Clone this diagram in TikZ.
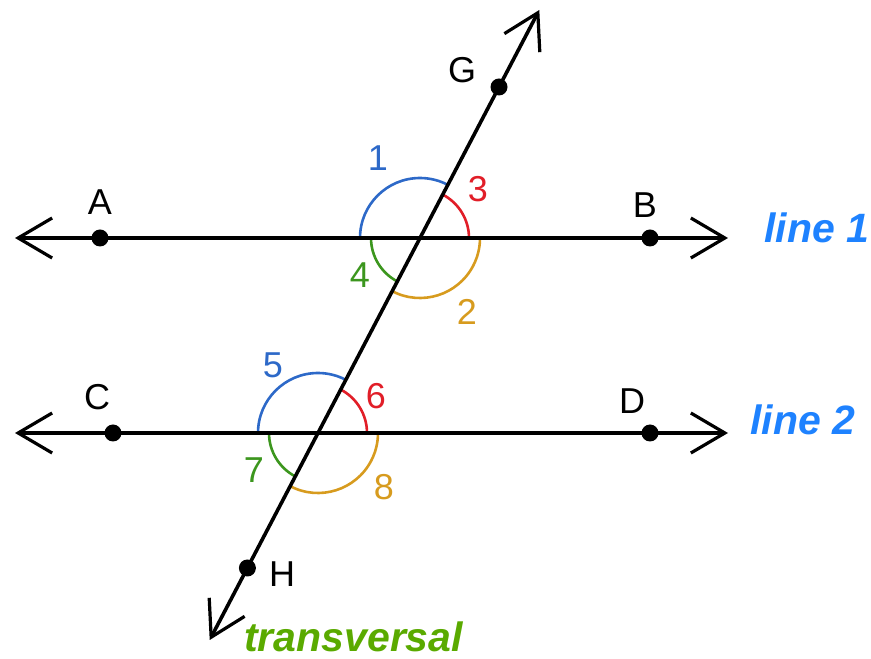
\documentclass[tikz,border=0pt]{standalone}
\usepackage{fontspec}
\setmainfont{Liberation Sans}
\usetikzlibrary{arrows.meta}
\definecolor{arcblue}{RGB}{45,105,200}
\definecolor{arcred}{RGB}{225,30,40}
\definecolor{arcgreen}{RGB}{60,150,30}
\definecolor{arcorange}{RGB}{215,155,30}
\definecolor{linetxt}{RGB}{30,130,255}
\definecolor{transtxt}{RGB}{90,170,0}
\begin{document}
\begin{tikzpicture}[x=1pt,y=1pt,
  mainline/.style={line width=3.6pt,black,{Straight Barb[length=34pt,width=40pt,line width=3.2pt]}-{Straight Barb[length=34pt,width=40pt,line width=3.2pt]}},
  bigdot/.style={circle,fill=black,minimum size=17pt,inner sep=0pt},
  lbl/.style={inner sep=0pt,font=\fontsize{36}{42}\selectfont},
  anglearc/.style={line width=2.6pt},
  linename/.style={inner sep=0pt,text=linetxt,font=\fontsize{41}{47}\selectfont\bfseries\itshape}
]
\useasboundingbox (0,0) rectangle (871,659);
% intersections
\coordinate (I1) at (420,421);
\coordinate (I2) at (318,226);
% line ends
\coordinate (L1a) at (15,421);
\coordinate (L1b) at (728,421);
\coordinate (L2a) at (15,226);
\coordinate (L2b) at (728,226);
\coordinate (Tt) at (539.3,649);
\coordinate (Tb) at (209.7,19);
% arcs line 1
\draw[anglearc,arcblue] ([shift={(180:60)}]I1) arc[start angle=180,end angle=62.38,radius=60];
\draw[anglearc,arcred] ([shift={(0:49)}]I1) arc[start angle=0,end angle=62.38,radius=49];
\draw[anglearc,arcgreen] ([shift={(180:49)}]I1) arc[start angle=180,end angle=242.38,radius=49];
\draw[anglearc,arcorange] ([shift={(242.38:60)}]I1) arc[start angle=242.38,end angle=360,radius=60];
% arcs line 2
\draw[anglearc,arcblue] ([shift={(180:60)}]I2) arc[start angle=180,end angle=62.38,radius=60];
\draw[anglearc,arcred] ([shift={(0:49)}]I2) arc[start angle=0,end angle=62.38,radius=49];
\draw[anglearc,arcgreen] ([shift={(180:49)}]I2) arc[start angle=180,end angle=242.38,radius=49];
\draw[anglearc,arcorange] ([shift={(242.38:60)}]I2) arc[start angle=242.38,end angle=360,radius=60];
% lines
\draw[mainline] (L1a) -- (L1b);
\draw[mainline] (L2a) -- (L2b);
\draw[mainline] (Tb) -- (Tt);
% points
\node[bigdot] (A) at (100,421) {};
\node[bigdot] (B) at (650,421) {};
\node[bigdot] (C) at (113,226) {};
\node[bigdot] (D) at (650,226) {};
\node[bigdot] (G) at (499,572) {};
\node[bigdot] (H) at (247.4,91) {};
% point labels
\node[lbl] (lA) at (100,457) {A};
\node[lbl] (lB) at (645,454) {B};
\node[lbl] (lC) at (97,262) {C};
\node[lbl] (lD) at (632,258) {D};
\node[lbl] (lG) at (462,589) {G};
\node[lbl] (lH) at (282,85) {H};
% angle labels
\node[lbl,text=arcblue] (n1) at (378,501) {1};
\node[lbl,text=arcred] (n3) at (478,470) {3};
\node[lbl,text=arcgreen] (n4) at (360,384) {4};
\node[lbl,text=arcorange] (n2) at (467,347) {2};
\node[lbl,text=arcblue] (n5) at (273,294) {5};
\node[lbl,text=arcred] (n6) at (376,263) {6};
\node[lbl,text=arcgreen] (n7) at (254,189) {7};
\node[lbl,text=arcorange] (n8) at (384,172) {8};
% line names
\node[linename,anchor=base west] (line1) at (764,416) {line 1};
\node[linename,anchor=base west] (line2) at (750,224) {line 2};
\node[linename,anchor=base west,text=transtxt] (trans) at (244,7) {transversal};
\end{tikzpicture}
\end{document}
